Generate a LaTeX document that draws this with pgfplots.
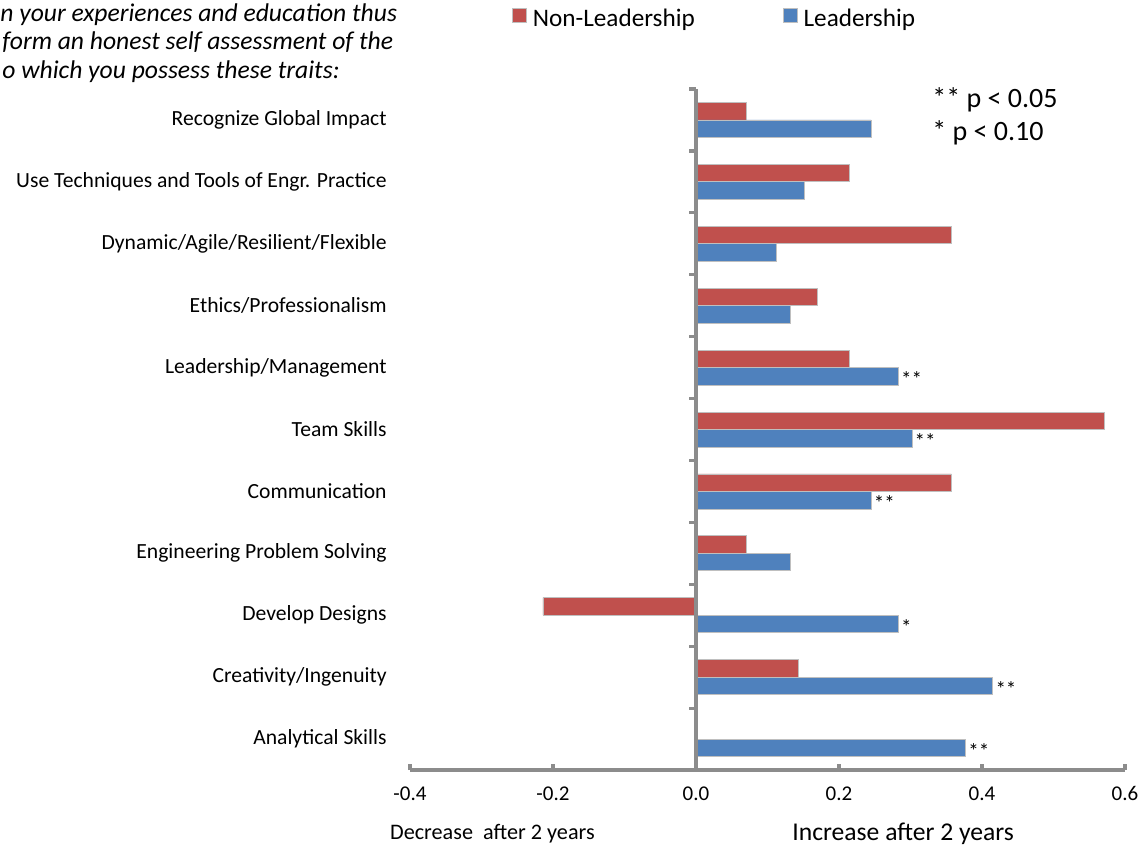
\documentclass[border=0pt]{standalone}
\usepackage{fontspec}
\setmainfont{Carlito}
\usepackage{pgfplots}
\pgfplotsset{compat=1.18}

\definecolor{nonlead}{HTML}{C0504D}
\definecolor{lead}{HTML}{4F81BD}
\definecolor{axisgray}{HTML}{8C8C8C}

% positions below are given in pt, with 1 px of the 1148x848 target = 0.5pt
\begin{document}
\begin{tikzpicture}
\useasboundingbox (0pt,0pt) rectangle (574pt,-424pt);

% question text (clipped at the left in the original)
\begin{scope}[every node/.style={anchor=base west, inner sep=0pt, font=\fontsize{12.8}{14}\selectfont\itshape}]
\node at (0pt,-10.5pt) {n your experiences and education thus};
\node at (1pt,-24.5pt) {form an honest self assessment of the};
\node at (1pt,-39pt) {o which you possess these traits:};
\end{scope}

\begin{axis}[
    at={(205pt,-385pt)}, anchor=south west,
    scale only axis,
    width=357.5pt, height=340.5pt,
    clip=false,
    xbar,
    bar width=8.75pt,
    xmin=-0.4, xmax=0.6,
    ymin=-0.5, ymax=10.5,
    axis x line=bottom,
    axis y line=left,
    axis line style={-},
    x axis line style={axisgray, line width=1.6pt},
    y axis line style={draw=none},
    xtick={-0.4,-0.2,0,0.2,0.4,0.6},
    xtick align=inside,
    major tick length=3pt,
    x tick style={axisgray, line width=1.6pt},
    ytick={0,1,2,3,4,5,6,7,8,9,10},
    ytick style={draw=none},
    yticklabels={Analytical Skills, Creativity/Ingenuity, Develop Designs,
        Engineering Problem Solving, Communication, Team Skills,
        Leadership/Management, Ethics/Professionalism,
        Dynamic/Agile/Resilient/Flexible,
        Use Techniques and Tools of Engr. Practice, Recognize Global Impact},
    yticklabel style={anchor=east, inner sep=0pt, xshift=-10pt,
        font=\fontsize{10.8}{13}\selectfont},
    xticklabel style={inner sep=0pt, yshift=-8pt,
        font=\fontsize{10.5}{12}\selectfont},
    /pgf/number format/.cd, fixed, fixed zerofill, precision=1,
        assume math mode=true,
    /pgfplots/.cd,
    legend columns=2,
    legend style={at={(0.1422,1.1028)}, anchor=west, draw=none,
        inner sep=0pt, font=\fontsize{12.6}{14}\selectfont,
        nodes={inner sep=0pt},
        /tikz/every odd column/.append style={column sep=3pt},
        /tikz/every even column/.append style={column sep=44pt}},
    legend image code/.code={\fill[#1] (0pt,-1.5pt) rectangle (7pt,5.5pt);},
]

% Non-Leadership
\addplot[fill=nonlead, draw=black!25, line width=0.4pt, bar shift=4.375pt]
    coordinates {
    (0.071,10) (0.214,9) (0.357,8) (0.170,7) (0.214,6)
    (0.571,5) (0.357,4) (0.071,3) (-0.214,2) (0.143,1)
    };
\addlegendentry{Non-Leadership}

% Leadership
\addplot[fill=lead, draw=black!25, line width=0.4pt, bar shift=-4.375pt,
    nodes near coords, point meta=explicit symbolic,
    every node near coord/.style={anchor=base west, inner sep=1.2pt,
        yshift=-9.5pt, font=\fontsize{10.5}{11}\selectfont}]
    coordinates {
    (0.245,10) [{}] (0.151,9) [{}] (0.113,8) [{}] (0.132,7) [{}]
    (0.283,6) [**] (0.302,5) [**] (0.245,4) [**] (0.132,3) [{}]
    (0.283,2) [*] (0.415,1) [**] (0.377,0) [**]
    };
\addlegendentry{Leadership}

% centre line with category ticks
\draw[axisgray, line width=1.6pt] (axis cs:0,-0.5) -- (axis cs:0,10.5);
\pgfplotsinvokeforeach{0.5,1.5,2.5,3.5,4.5,5.5,6.5,7.5,8.5,9.5,10.5}{
    \draw[axisgray, line width=1.6pt] (axis cs:0,#1) -- ++(-3.5pt,0pt);
}
\end{axis}

\node[anchor=base west, inner sep=0pt, font=\fontsize{14}{16}\selectfont]
    at (466pt,-53.5pt) {** p < 0.05};
\node[anchor=base west, inner sep=0pt, font=\fontsize{14}{16}\selectfont]
    at (466pt,-70pt) {* p < 0.10};

\node[anchor=base east, inner sep=0pt, font=\fontsize{11.1}{13}\selectfont]
    at (297.5pt,-419.5pt) {Decrease\ \ after 2 years};
\node[anchor=base west, inner sep=0pt, font=\fontsize{12.8}{14}\selectfont]
    at (396pt,-420pt) {Increase after 2 years};
\end{tikzpicture}
\end{document}
